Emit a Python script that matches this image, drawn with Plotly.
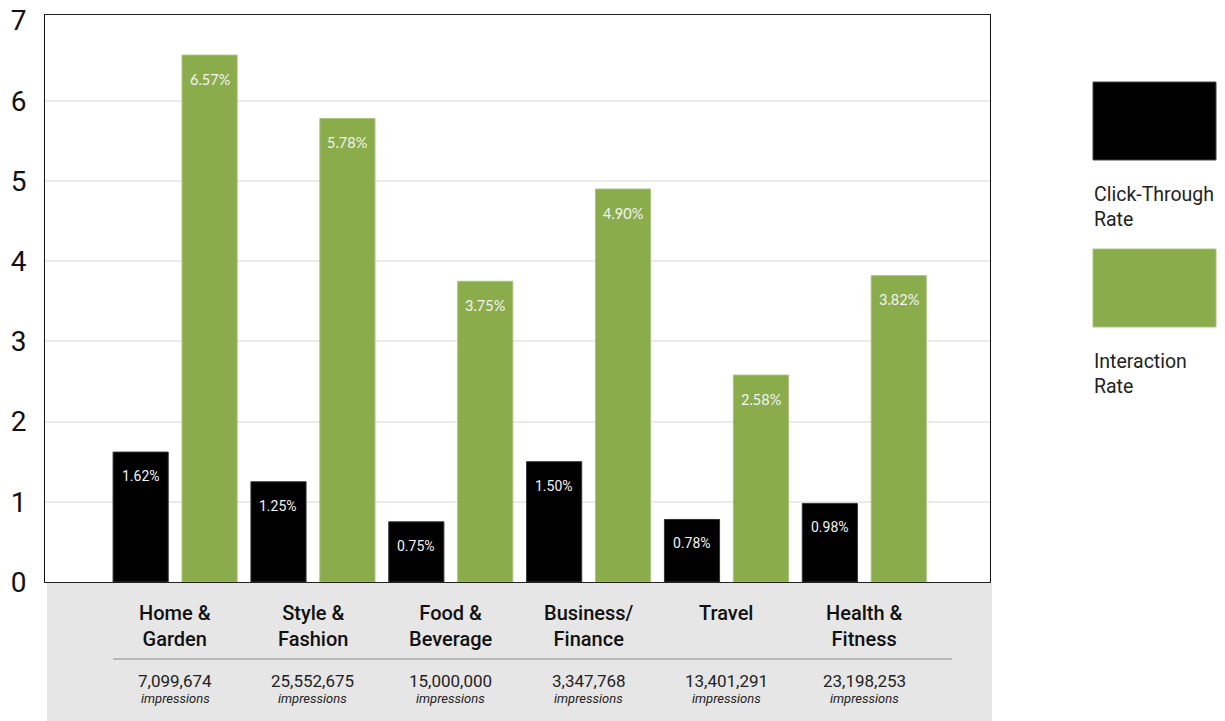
import plotly.graph_objects as go

categories = ["Home &<br>Garden", "Style &<br>Fashion", "Food &<br>Beverage",
              "Business/<br>Finance", "Travel", "Health &<br>Fitness"]
ctr_values = [1.62, 1.25, 0.75, 1.50, 0.78, 0.98]
ir_values = [6.57, 5.78, 3.75, 4.90, 2.58, 3.82]
impressions = ["7,099,674", "25,552,675", "15,000,000", "3,347,768", "13,401,291", "23,198,253"]
y_ticks = [0, 1, 2, 3, 4, 5, 6, 7]
series_names = ["Click-Through<br>Rate", "Interaction<br>Rate"]

BLACK = "#000000"
GREEN = "#8aac4b"
W, H = 1225, 721
OFF = 0  # page body margin removed via post_script
PL, PT, PW, PH = 45, 15, 945, 567  # plot area in page pixels
L, T = PL - OFF, PT - OFF
R = W - L - PW
B = H - T - PH


def px_x(px):
    return (px - PL) / PW


def px_y(py):
    return (PT + PH - py) / PH


xs = list(range(len(categories)))

fig = go.Figure()
fig.add_trace(go.Bar(x=xs, y=ctr_values, offset=-0.45, width=0.4,
                     marker=dict(color=BLACK, line=dict(color="#333333", width=1)),
                     name="Click-Through Rate", hoverinfo="y"))
fig.add_trace(go.Bar(x=xs, y=ir_values, offset=0.05, width=0.4,
                     marker=dict(color=GREEN, line=dict(color="#a9c47c", width=1)),
                     name="Interaction Rate", hoverinfo="y"))

ann = []
for i in xs:
    ann.append(dict(x=i - 0.25, y=ctr_values[i], xref="x", yref="y", text=f"{ctr_values[i]:.2f}%",
                    showarrow=False, yshift=-24, font=dict(family="Roboto", size=14, color="#f4f4f4")))
    ann.append(dict(x=i + 0.25, y=ir_values[i], xref="x", yref="y", text=f"{ir_values[i]:.2f}%",
                    showarrow=False, yshift=-24, font=dict(family="Lato", size=14.5, color="#f4f4f4")))
    ann.append(dict(x=i, y=px_y(599), xref="x", yref="paper", yanchor="top", text=categories[i],
                    showarrow=False, font=dict(family="Roboto", size=20, color="#111111", weight=500)))
    ann.append(dict(x=i, y=px_y(681), xref="x", yref="paper", yanchor="middle", text=impressions[i],
                    showarrow=False, font=dict(family="Roboto", size=17, color="#222222")))
    ann.append(dict(x=i, y=px_y(698), xref="x", yref="paper", yanchor="middle", text="<i>impressions</i>",
                    showarrow=False, font=dict(family="Roboto", size=13, color="#222222")))

# custom legend
legend_boxes = [(82, 160, BLACK), (249, 327, GREEN)]
legend_text_y = [181, 348]
shapes = [
    dict(type="rect", xref="paper", yref="paper", x0=px_x(47), x1=px_x(992), y0=px_y(583), y1=px_y(730),
         fillcolor="#e6e6e6", line=dict(width=0), layer="below"),
    dict(type="line", xref="paper", yref="paper", x0=px_x(113), x1=px_x(952), y0=px_y(659), y1=px_y(659),
         line=dict(color="#8a8a8a", width=1.2)),
]
for (y0, y1, col), ty, name in zip(legend_boxes, legend_text_y, series_names):
    shapes.append(dict(type="rect", xref="paper", yref="paper", x0=px_x(1093), x1=px_x(1216),
                       y0=px_y(y1), y1=px_y(y0), fillcolor=col,
                       line=dict(color="#444444" if col == BLACK else "#a9c47c", width=1)))
    ann.append(dict(x=px_x(1092), y=px_y(ty), xref="paper", yref="paper", xanchor="left", yanchor="top",
                    align="left", text=name, showarrow=False,
                    font=dict(family="Roboto", size=19.5, color="#222222")))

fig.update_layout(
    width=W, height=H,
    margin=dict(l=L, r=R, t=T, b=B, autoexpand=False),
    paper_bgcolor="white", plot_bgcolor="white",
    barmode="overlay", showlegend=False,
    annotations=ann, shapes=shapes,
    xaxis=dict(range=[-0.944, 5.912], showticklabels=False, showgrid=False, zeroline=False,
               showline=True, linecolor="#222222", linewidth=1, mirror=True, ticks="",
               automargin=False),
    yaxis=dict(range=[0, 7.07], tickvals=y_ticks, showgrid=False,
               minor=dict(tickvals=y_ticks[1:-1], showgrid=True, gridcolor="#ebebeb", gridwidth=1.5,
                          ticks=""),
               zeroline=False, showline=True, linecolor="#111111", linewidth=1, mirror=True,
               tickfont=dict(family="Roboto", size=28, color="#111111"), ticks="",
               ticklabelstandoff=12, ticklabeloverflow="allow", automargin=False),
)

fig.write_html("out.html", config={"displayModeBar": False},
               post_script="document.body.style.margin='0';")
